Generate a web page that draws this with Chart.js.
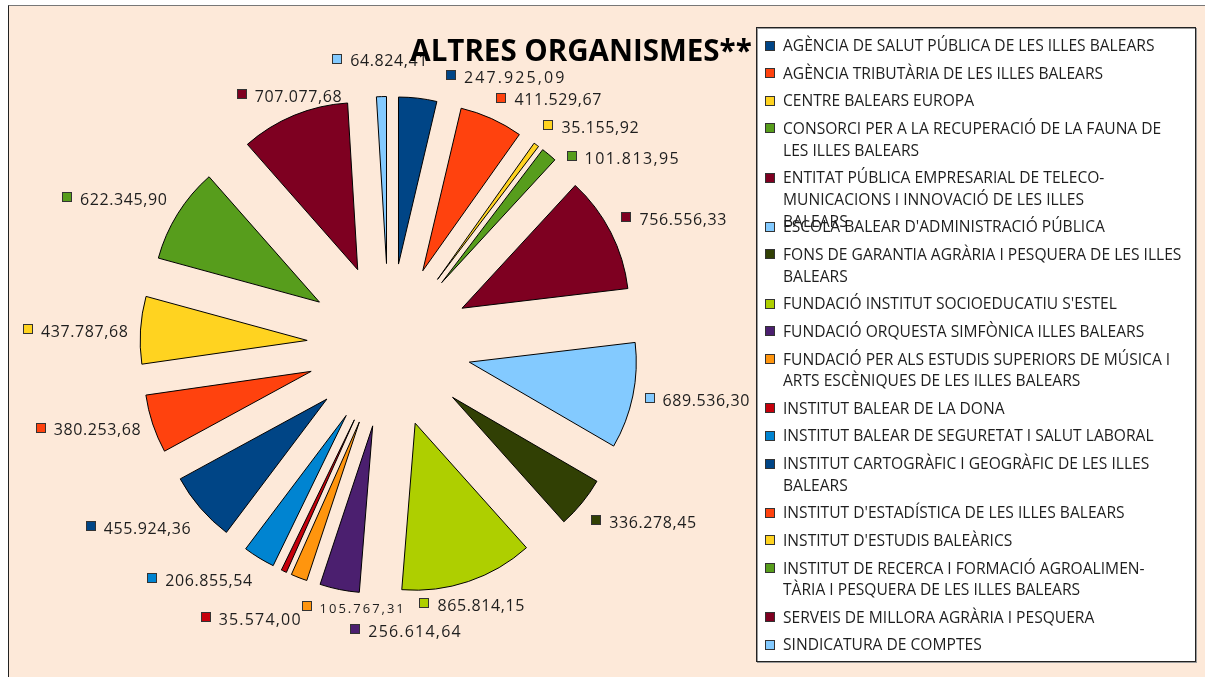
<!DOCTYPE html>
<html>
<head>
<meta charset="utf-8">
<script src="https://cdn.jsdelivr.net/npm/chart.js@4.4.0/dist/chart.umd.min.js"></script>
<style>
    html, body { margin: 0; padding: 0; background: #fff; }
    #frame { position: absolute; left: 8px; top: 5px; right: 0; bottom: 0; background: #fde9d9; border-left: 1px solid #222; border-top: 1px solid #777; }
    #wrap { position: absolute; left: 0; top: 0; width: 1205px; height: 677px; }
</style>
</head>
<body>
<div id="frame"></div>
<div id="wrap"><canvas id="myChart" width="1205" height="677"></canvas></div>
<script>
var titol = 'ALTRES ORGANISMES**';
var organismes = [
    ['AGÈNCIA DE SALUT PÚBLICA DE LES ILLES BALEARS'],
    ['AGÈNCIA TRIBUTÀRIA DE LES ILLES BALEARS'],
    ['CENTRE BALEARS EUROPA'],
    ['CONSORCI PER A LA RECUPERACIÓ DE LA FAUNA DE', 'LES ILLES BALEARS'],
    ['ENTITAT PÚBLICA EMPRESARIAL DE TELECO-', 'MUNICACIONS I INNOVACIÓ DE LES ILLES', 'BALEARS'],
    ["ESCOLA BALEAR D'ADMINISTRACIÓ PÚBLICA"],
    ['FONS DE GARANTIA AGRÀRIA I PESQUERA DE LES ILLES', 'BALEARS'],
    ["FUNDACIÓ INSTITUT SOCIOEDUCATIU S'ESTEL"],
    ['FUNDACIÓ ORQUESTA SIMFÒNICA ILLES BALEARS'],
    ['FUNDACIÓ PER ALS ESTUDIS SUPERIORS DE MÚSICA I', 'ARTS ESCÈNIQUES DE LES ILLES BALEARS'],
    ['INSTITUT BALEAR DE LA DONA'],
    ['INSTITUT BALEAR DE SEGURETAT I SALUT LABORAL'],
    ['INSTITUT CARTOGRÀFIC I GEOGRÀFIC DE LES ILLES', 'BALEARS'],
    ["INSTITUT D'ESTADÍSTICA DE LES ILLES BALEARS"],
    ["INSTITUT D'ESTUDIS BALEÀRICS"],
    ['INSTITUT DE RECERCA I FORMACIÓ AGROALIMEN-', 'TÀRIA I PESQUERA DE LES ILLES BALEARS'],
    ['SERVEIS DE MILLORA AGRÀRIA I PESQUERA'],
    ['SINDICATURA DE COMPTES']
];
var imports = [247925.09, 411529.67, 35155.92, 101813.95, 756556.33, 689536.30, 336278.45, 865814.15, 256614.64,
    105767.31, 35574.00, 206855.54, 455924.36, 380253.68, 437787.68, 622345.90, 707077.68, 64824.41];
var colors = ['#004586', '#ff420e', '#ffd320', '#579d1c', '#7e0021', '#83caff', '#314004', '#aecf00', '#4b1f6f',
    '#ff950e', '#c5000b', '#0084d1', '#004586', '#ff420e', '#ffd320', '#579d1c', '#7e0021', '#83caff'];

// look of the pie
var pieRadius = 167;
var explode = 82;
var labelGap = 12;
var fontName = '"Open Sans", "Noto Sans", sans-serif';
var textColor = '#1e1e1e';

// the value labels that calc pushed away from their slice (dx, dy in px) and odd spacing
var labelShift = { 0: [87, -1], 3: [10, 21], 8: [69, 18], 9: [59, 7], 10: [23, 25], 17: [-1, -16] };
var labelSpacing = { 0: 2.1, 3: 1.4, 8: 1.2, 9: 2, 10: 1.2 };
var labelSize = { 9: 13 };

function fmtCat(v) {
    var p = v.toFixed(2).split('.');
    return p[0].replace(/\B(?=(\d{3})+(?!\d))/g, '.') + ',' + p[1];
}

// exploded slices: push every arc out along its middle angle
var arcDraw = Chart.ArcElement.prototype.draw;
Chart.ArcElement.prototype.draw = function (ctx) {
    var mid = (this.startAngle + this.endAngle) / 2;
    ctx.save();
    ctx.translate(Math.cos(mid) * explode, Math.sin(mid) * explode);
    arcDraw.call(this, ctx);
    ctx.restore();
};

function colorBox(ctx, x, y, c) {
    ctx.fillStyle = c;
    ctx.fillRect(x, y - 5, 10, 10);
    ctx.strokeStyle = '#333';
    ctx.lineWidth = 1;
    ctx.strokeRect(x + 0.5, y - 4.5, 9, 9);
}

var valueLabels = {
    id: 'valueLabels',
    afterDatasetsDraw: function (chart) {
        var ctx = chart.ctx;
        var meta = chart.getDatasetMeta(0);
        var ds = chart.data.datasets[0];
        meta.data.forEach(function (arc, i) {
            var mid = (arc.startAngle + arc.endAngle) / 2;
            var dx = Math.cos(mid), dy = Math.sin(mid);
            var r = arc.outerRadius + explode + labelGap;
            var ax = arc.x + dx * r, ay = arc.y + dy * r;
            var size = labelSize[i] || 16;
            ctx.save();
            ctx.font = size + 'px ' + fontName;
            ctx.letterSpacing = (labelSpacing[i] === undefined ? 0.6 : labelSpacing[i]) + 'px';
            var txt = fmtCat(ds.data[i]);
            var w = 18 + ctx.measureText(txt).width;
            var left, cy;
            if (Math.abs(dx) < 0.383) left = ax - w / 2;
            else if (dx > 0) left = ax;
            else left = ax - w;
            if (Math.abs(dy) < 0.383) cy = ay;
            else if (dy < 0) cy = ay - 10;
            else cy = ay + 10;
            if (labelShift[i]) { left += labelShift[i][0]; cy += labelShift[i][1]; }
            colorBox(ctx, Math.round(left), Math.round(cy), ds.backgroundColor[i]);
            ctx.fillStyle = textColor;
            ctx.textBaseline = 'alphabetic';
            ctx.fillText(txt, left + 18, cy + 2 + size * 0.357);
            ctx.restore();
        });
    },
    afterDraw: function (chart) {
        var ctx = chart.ctx;
        var ds = chart.data.datasets[0];
        // legend box
        ctx.save();
        ctx.fillStyle = '#fff';
        ctx.fillRect(757, 28, 439, 634);
        ctx.strokeStyle = '#999';
        ctx.lineWidth = 1;
        ctx.strokeRect(757.5, 28.5, 439, 634);
        ctx.strokeStyle = '#222';
        ctx.strokeRect(756.5, 27.5, 439, 634);
        ctx.font = '15.6px ' + fontName;
        ctx.textBaseline = 'alphabetic';
        var y = 45.5;
        chart.data.labels.forEach(function (lines, i) {
            colorBox(ctx, 765, Math.round(y), ds.backgroundColor[i]);
            ctx.fillStyle = textColor;
            lines.forEach(function (l, k) {
                ctx.fillText(l, 783, y + k * 21.8 + 15.6 * 0.357);
            });
            // calc only reserves two lines per entry, the third one overlaps
            y += 27.6 + 21.7 * (Math.min(lines.length, 2) - 1);
        });
        // title
        ctx.font = 'bold 29.5px ' + fontName;
        ctx.fillStyle = '#000';
        ctx.textAlign = 'center';
        ctx.fillText(titol, 581, 60.5);
        ctx.restore();
    }
};

var chart = new Chart(document.getElementById('myChart'), {
    type: 'pie',
    data: {
        labels: organismes,
        datasets: [{ data: imports, backgroundColor: colors, borderColor: '#000', borderWidth: 1, radius: pieRadius }]
    },
    options: {
        responsive: false,
        animation: false,
        layout: { padding: { left: 0, right: 427, top: 14, bottom: 0 } },
        plugins: { legend: { display: false }, tooltip: { enabled: false } }
    },
    plugins: [valueLabels]
});
</script>
</body>
</html>
